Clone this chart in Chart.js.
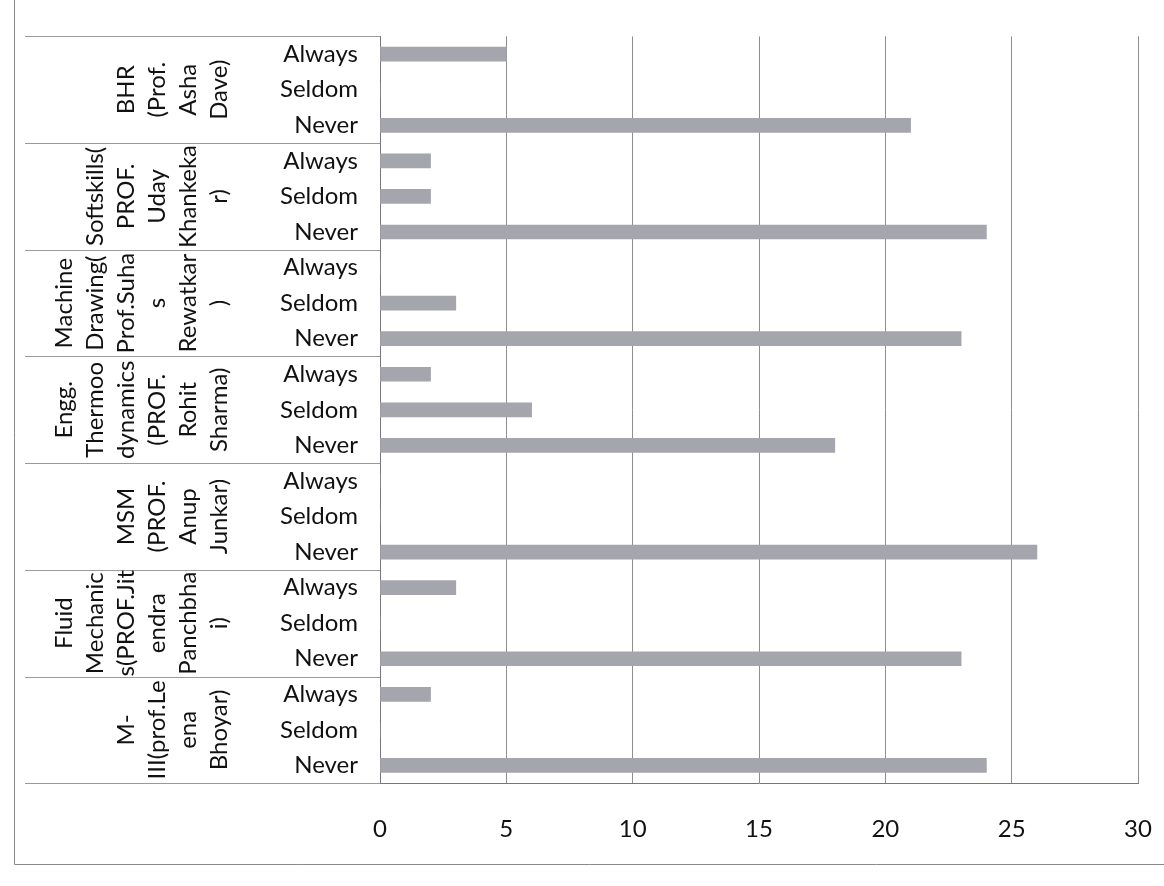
<!DOCTYPE html>
<html>
<head>
<meta charset="utf-8">
<script src="https://cdn.jsdelivr.net/npm/chart.js@4.4.0/dist/chart.umd.min.js"></script>
<style>
  html, body { margin: 0; padding: 0; background: #ffffff; }
  #wrap { width: 1164px; height: 886px; position: relative; }
</style>
</head>
<body>
<div id="wrap"><canvas id="c" width="1164" height="886"></canvas></div>
<script>
// ---- data (top-to-bottom order, as in the picture) ----
const groupNames = [
  "BHR (Prof. Asha Dave)",
  "Softskills( PROF. Uday Khankekar)",
  "Machine Drawing( Prof.Suhas Rewatkar )",
  "Engg. Thermoodynamics (PROF. Rohit Sharma)",
  "MSM (PROF. Anup Junkar)",
  "Fluid Mechanics(PROF.Jitendra Panchbhai)",
  "M-III(prof.Leena Bhoyar)"
];
const groupLines = [
  ["BHR", "(Prof.", "Asha", "Dave)"],
  ["Softskills(", "PROF.", "Uday", "Khankeka", "r)"],
  ["Machine", "Drawing(", "Prof.Suha", "s", "Rewatkar", ")"],
  ["Engg.", "Thermoo", "dynamics", "(PROF.", "Rohit", "Sharma)"],
  ["MSM", "(PROF.", "Anup", "Junkar)"],
  ["Fluid", "Mechanic", "s(PROF.Jit", "endra", "Panchbha", "i)"],
  ["M-", "III(prof.Le", "ena", "Bhoyar)"]
];
const responses = ["Always", "Seldom", "Never"];
const alwaysVals = [5, 2, 0, 2, 0, 3, 2];
const seldomVals = [0, 2, 3, 6, 0, 0, 0];
const neverVals  = [21, 24, 23, 18, 26, 23, 24];
const xTicks = [0, 5, 10, 15, 20, 25, 30];

// ---- build the flat category list the library needs ----
const labels = [];
const values = [];
groupNames.forEach((g, i) => {
  labels.push(responses[0]); values.push(alwaysVals[i]);
  labels.push(responses[1]); values.push(seldomVals[i]);
  labels.push(responses[2]); values.push(neverVals[i]);
});

const FONT = "Lato, 'Open Sans', sans-serif";

const groupPlugin = {
  id: 'groupPlugin',
  afterDraw(chart) {
    const ctx = chart.ctx;
    const ys = chart.scales.y;
    const area = chart.chartArea;
    ctx.save();
    // outer frame (left + bottom)
    ctx.strokeStyle = '#8a8a8a';
    ctx.lineWidth = 1;
    ctx.beginPath();
    ctx.moveTo(14.5, 0);
    ctx.lineTo(14.5, 864.5);
    ctx.lineTo(1164, 864.5);
    ctx.stroke();
    // group separator lines in the category table
    ctx.strokeStyle = '#9a9a9a';
    for (let g = 0; g <= groupNames.length; g++) {
      const y = Math.round(ys.getPixelForValue(g * 3 - 0.5)) + 0.5;
      ctx.beginPath();
      ctx.moveTo(25, y);
      ctx.lineTo(area.left, y);
      ctx.stroke();
    }
    // group labels, rotated
    ctx.fillStyle = '#111111';
    ctx.font = "24px " + FONT;
    ctx.textAlign = 'center';
    ctx.textBaseline = 'middle';
    const lastX = 219, step = 31;
    groupLines.forEach((lines, g) => {
      const yc = (ys.getPixelForValue(g * 3 - 0.5) + ys.getPixelForValue(g * 3 + 2.5)) / 2;
      const n = lines.length;
      lines.forEach((txt, k) => {
        const x = lastX - (n - 1 - k) * step;
        ctx.save();
        ctx.translate(x, yc);
        ctx.rotate(-Math.PI / 2);
        ctx.fillText(txt, 0, 0);
        ctx.restore();
      });
    });
    ctx.restore();
  }
};

new Chart(document.getElementById('c'), {
  type: 'bar',
  data: {
    labels: labels,
    datasets: [{
      label: 'Responses',
      data: values,
      backgroundColor: '#a4a5ad',
      borderWidth: 0,
      barThickness: 14
    }]
  },
  options: {
    indexAxis: 'y',
    responsive: false,
    devicePixelRatio: 1,
    animation: false,
    layout: { padding: { top: 25, bottom: 10, left: 9, right: 26 } },
    plugins: {
      legend: { display: false },
      tooltip: { enabled: false },
      title: { display: false }
    },
    scales: {
      x: {
        type: 'linear',
        min: xTicks[0],
        max: xTicks[xTicks.length - 1],
        afterBuildTicks: (s) => { s.ticks = xTicks.map(v => ({ value: v })); },
        afterFit: (s) => { s.paddingRight = 0; s.paddingLeft = 0; },
        ticks: { font: { family: FONT, size: 24 }, color: '#111', padding: 32 },
        grid: { color: '#8e8e8e', lineWidth: 1, drawTicks: false },
        border: { display: true, color: '#777', width: 1 }
      },
      y: {
        type: 'category',
        afterFit: (s) => { s.width = 371; },
        ticks: { font: { family: FONT, size: 24 }, color: '#111', padding: 22, autoSkip: false },
        grid: { display: false, drawTicks: false },
        border: { display: true, color: '#777', width: 1 }
      }
    }
  },
  plugins: [groupPlugin]
});
</script>
</body>
</html>
